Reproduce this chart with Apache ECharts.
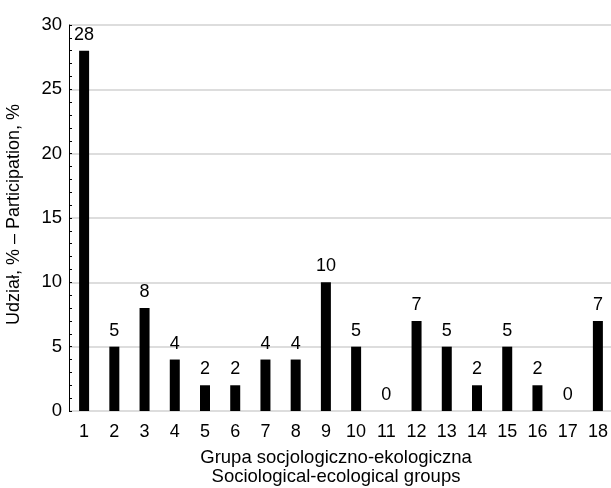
<!DOCTYPE html>
<html><head><meta charset="utf-8">
<script src="https://cdn.jsdelivr.net/npm/echarts@6/dist/echarts.min.js"></script>
<style>html,body{margin:0;padding:0;background:#fff}#c{width:611px;height:488px}</style>
</head><body><div id="c"></div>
<script>
const categories = ['1','2','3','4','5','6','7','8','9','10','11','12','13','14','15','16','17','18'];
const values = [28,5,8,4,2,2,4,4,10,5,0,7,5,2,5,2,0,7];
const yTicks = [0,5,10,15,20,25,30];
const font = 'Liberation Sans, Arial, sans-serif';
const chart = echarts.init(document.getElementById('c'));
chart.setOption({
  animation: false,
  grid: {left: 69, right: -2, top: 25, bottom: 77, outerBoundsMode: 'none', containLabel: false},
  xAxis: {
    type: 'category', data: categories,
    axisLine: {show: false}, axisTick: {show: false},
    axisLabel: {color: '#000', fontSize: 18, fontFamily: font, margin: 12},
    name: 'Grupa socjologiczno-ekologiczna\nSociological-ecological groups',
    nameLocation: 'middle', nameGap: 37,
    nameTextStyle: {color: '#000', fontSize: 18.5, fontFamily: font, lineHeight: 19, padding: [0, 0, 0, -10]}
  },
  yAxis: {
    type: 'value', min: yTicks[0], max: yTicks[yTicks.length-1], interval: 5,
    axisLine: {show: true, lineStyle: {color: '#000', width: 1}},
    axisTick: {show: true, inside: true, length: 3, lineStyle: {color: '#000'}},
    minorTick: {show: true, splitNumber: 5, length: 3, lineStyle: {color: '#000'}},
    splitLine: {show: true, lineStyle: {color: '#dddddd', width: 2}},
    axisLabel: {color: '#000', fontSize: 18.5, fontFamily: font, margin: 7},
    name: 'Udział, % – Participation, %', nameLocation: 'middle', nameGap: 46,
    nameTextStyle: {color: '#000', fontSize: 18, fontFamily: font, padding: [0, -7, 0, 0]}
  },
  series: [{
    type: 'bar', data: values, barWidth: 10,
    itemStyle: {color: '#000'},
    label: {show: true, position: 'top', color: '#000', fontSize: 18, fontFamily: font, distance: 7}
  }]
});
</script></body></html>
